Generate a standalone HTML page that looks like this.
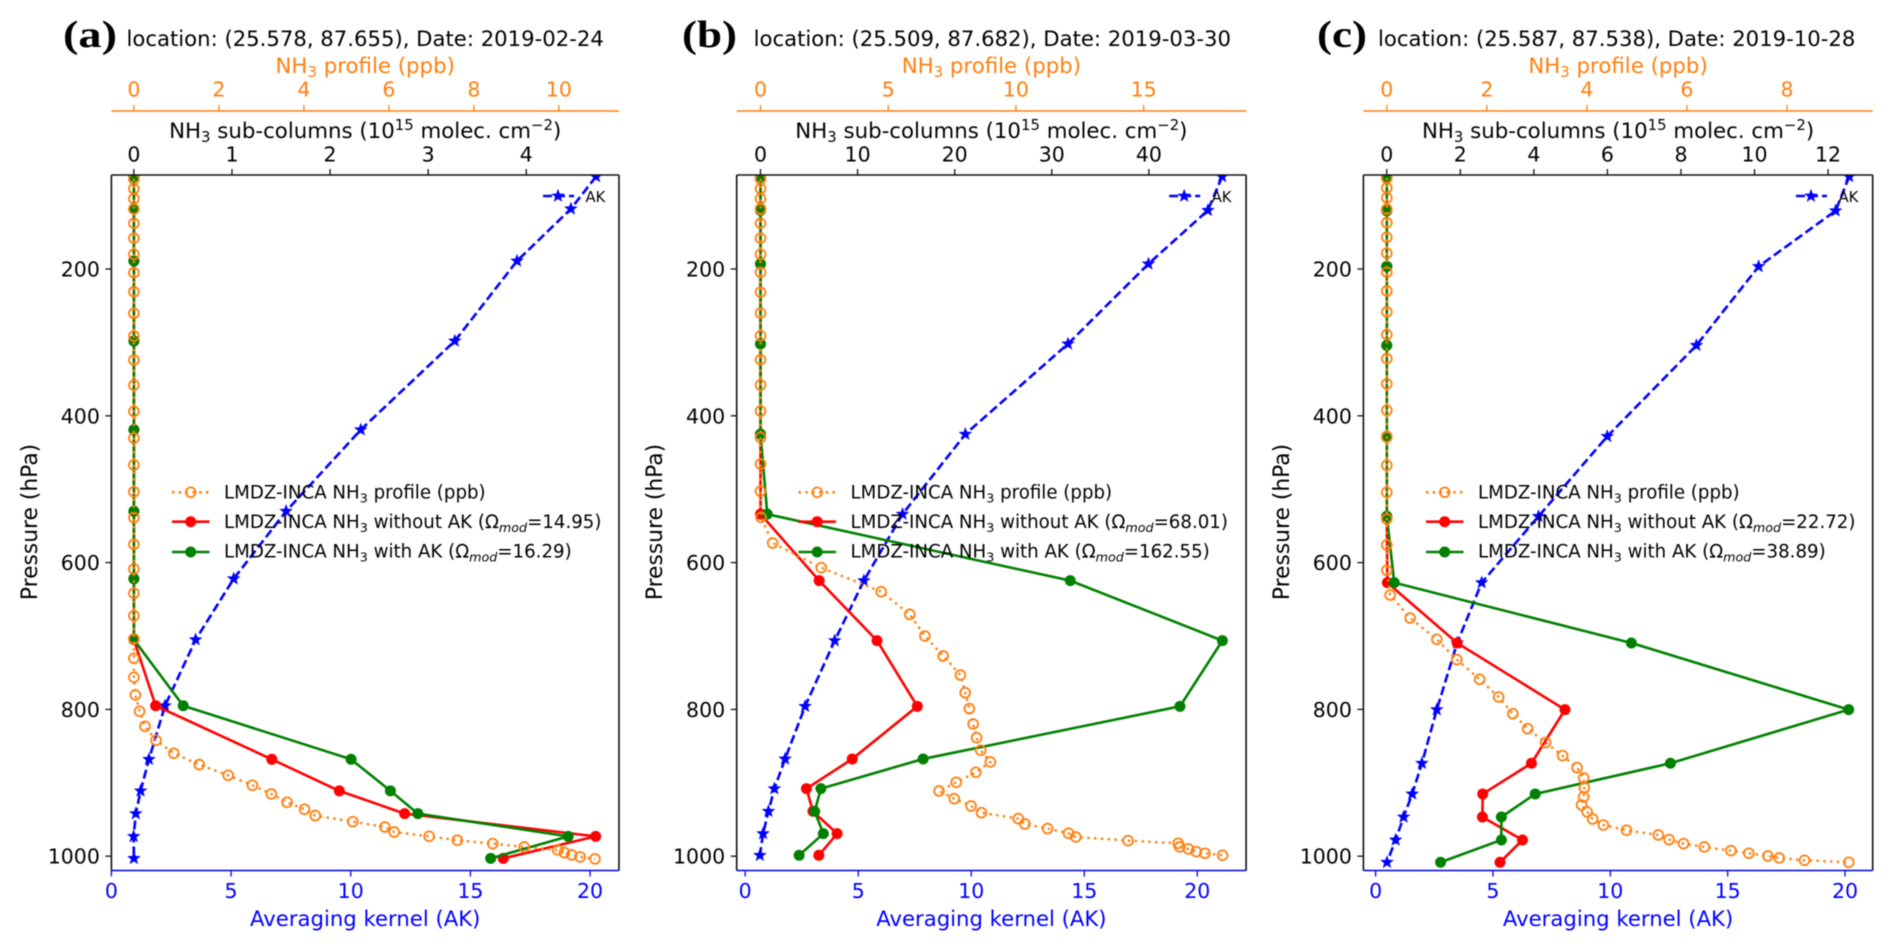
<!DOCTYPE html>
<html lang="en">
<head>
<meta charset="utf-8">
<title>LMDZ-INCA NH3 profiles</title>
<style>
html,body{margin:0;padding:0;background:#fff;width:1892px;height:950px;overflow:hidden}
svg{display:block;filter:blur(.65px)}
text{font-family:"DejaVu Sans","Liberation Sans",sans-serif;fill:#000}
</style>
</head>
<body>
<svg id="figure" xmlns="http://www.w3.org/2000/svg" width="1892" height="950" viewBox="0 0 1892 950"></svg>
<script>
// ---------- Panel (a) ----------
const aColumnPressure = [74,118,189,298,419,530,622,705,795,868,911,942,973,1003];
const aAveragingKernel = [20.25,19.2,16.95,14.35,10.42,7.3,5.11,3.52,2.24,1.57,1.22,1.02,0.93,0.94];
const aColumnsNoAk = [0,0,0,0,0,0,0,0,0.222,1.406,2.094,2.76,4.707,3.765];
const aColumnsWithAk = [0,0,0,0,0,0,0,0,0.503,2.214,2.615,2.895,4.427,3.637];
const aProfilePressure = [77.4,90.6,104.2,118.2,137.7,158,180,205,231,260.4,291.3,324,358.3,394,430.4,467,503.5,538.8,575,608.7,641.8,672.4,704,730.4,756.3,780.3,802.6,823,842.1,859.8,875.2,889.8,903.4,915.2,926.5,936.1,944.7,952.9,960.2,967,972.9,978.3,982.9,987.4,991.5,995.1,998.3,1001,1003.7];
const aProfile = [0,0,0,0,0,0,0,0,0,0,0,0,0,0,0,0,0,0,0,0,0,0,0,0,0,0.034,0.135,0.261,0.521,0.941,1.538,2.218,2.789,3.234,3.604,4.016,4.268,5.15,5.906,6.124,6.947,7.611,8.442,9.182,9.971,10.13,10.3,10.5,10.85];
const aAkTicks = [0,5,10,15,20];
const aColumnTicks = [0,1,2,3,4];
const aProfileTicks = [0,2,4,6,8,10];
const aOmega = ["14.95","16.29"];

// ---------- Panel (b) ----------
const bColumnPressure = [74,120,193,302,425,534,624.6,706.3,795.8,867.5,908,938.8,969.3,998.8];
const bAveragingKernel = [21.1,20.47,17.84,14.28,9.74,6.96,5.25,3.96,2.65,1.765,1.29,1.03,0.79,0.65];
const bColumnsNoAk = [0,0,0,0,0,0,6.04,12,16.15,9.45,4.73,5.4,7.89,6.01];
const bColumnsWithAk = [0,0,0,0,0,0.7,31.9,47.57,43.2,16.75,6.22,5.58,6.47,3.98];
const bProfilePressure = [77.4,90.6,104.2,118.2,137.7,158,180,204.5,231.5,260,291,323.5,358,393.5,429.5,465.7,502.6,538.3,573.3,606.9,639.6,670.5,700,727.2,753.1,777.2,799,819.9,838.5,855.7,871.6,885.7,899.3,911.1,921.6,931.6,940.7,948.8,956.1,962.4,968.8,973.8,978.8,982.4,987.4,990.1,993.8,996,998.8];
const bProfile = [0,0,0,0,0,0,0,0,0,0,0,0,0,0,0,0,0,0.02,0.477,2.378,4.724,5.843,6.436,7.151,7.825,8.014,8.176,8.324,8.459,8.62,8.998,8.432,7.663,6.989,7.582,8.243,8.648,10.09,10.35,11.24,12.06,12.34,14.39,16.35,16.41,16.75,17.06,17.4,18.09];
const bAkTicks = [0,5,10,15,20];
const bColumnTicks = [0,10,20,30,40];
const bProfileTicks = [0,5,10,15];
const bOmega = ["68.01","162.55"];

// ---------- Panel (c) ----------
const cColumnPressure = [74,120.6,196.5,304,428,537,627.3,709.5,800.3,873.4,915.2,946.6,977.9,1008.3];
const cAveragingKernel = [20.18,19.6,16.32,13.67,9.87,6.94,4.52,3.475,2.606,1.973,1.56,1.192,0.853,0.485];
const cColumnsNoAk = [0,0,0,0,0,0,0.015,1.913,4.846,3.934,2.609,2.6,3.69,3.079];
const cColumnsWithAk = [0,0,0,0,0,0,0.203,6.651,12.56,7.713,4.037,3.116,3.116,1.462];
const cProfilePressure = [76,89.3,103,118.5,136.8,156.7,178.5,204.3,229.9,258.5,289.5,322,356.5,392.5,429,467.4,504.2,540.6,576,610.5,644.1,675.5,704.5,732.2,759,783.1,805.8,826.2,845.3,863,879.3,893.4,906.6,919.3,930.2,939.7,949.3,957.5,964.7,971.1,977.4,982.9,987.4,992.4,996,999.7,1002.4,1005.6,1008.3];
const cProfile = [0,0,0,0,0,0,0,0,0,0,0,0,0,0,0,0,0,0,0,0,0.066,0.466,1,1.399,1.855,2.236,2.519,2.816,3.175,3.514,3.804,3.936,3.949,3.935,3.894,4.005,4.115,4.329,4.792,5.428,5.642,5.932,6.347,6.879,7.238,7.618,7.846,8.351,9.235];
const cAkTicks = [0,5,10,15,20];
const cColumnTicks = [0,2,4,6,8,10,12];
const cProfileTicks = [0,2,4,6,8];
const cOmega = ["22.72","38.89"];

const pressureTicks = [200,400,600,800,1000];
const pressureDomain = [71.9,1019.5];

const NS = "http://www.w3.org/2000/svg";
const ORANGE = "#ff7f0e", BLUE = "#0000ff", RED = "#ff0000", GREEN = "#008000";
const SVG = document.getElementById("figure");
const PLOT_TOP = 175, PLOT_BOTTOM = 870.5, ORANGE_AXIS_Y = 111;

function mk(tag, attrs, parent){
  const n = document.createElementNS(NS, tag);
  for (const k in attrs) n.setAttribute(k, attrs[k]);
  (parent || SVG).appendChild(n);
  return n;
}
function linear(domain, range){
  return v => range[0] + (v - domain[0]) * (range[1] - range[0]) / (domain[1] - domain[0]);
}
function starPath(cx, cy, R, r){
  let d = "";
  for (let i = 0; i < 10; i++){
    const rad = i % 2 ? r : R, a = -Math.PI / 2 + i * Math.PI / 5;
    d += (i ? "L" : "M") + (cx + rad * Math.cos(a)).toFixed(2) + " " + (cy + rad * Math.sin(a)).toFixed(2);
  }
  return d + "Z";
}
const SUB = 'font-size="14.9"';
const NH3 = 'NH<tspan dy="4" ' + SUB + '>3</tspan>';

function seriesPath(xs, ys, x, y){
  return xs.map((v, i) => (i ? "L" : "M") + x(v).toFixed(2) + " " + y(ys[i]).toFixed(2)).join("");
}

function drawPanel(p){
  const g = mk("g", {});
  
  
  const cx = (p.left + p.right) / 2;
  const y = linear(pressureDomain, [PLOT_TOP, PLOT_BOTTOM]);
  const xAk = linear(p.akDomain, [p.left, p.right]);
  const xCol = linear(p.colDomain, [p.left, p.right]);
  const xPro = linear(p.proDomain, [p.left, p.right]);

  const clip = mk("clipPath", {id: "clip-" + p.id}, g);
  mk("rect", {x: p.left, y: PLOT_TOP, width: p.right - p.left, height: PLOT_BOTTOM - PLOT_TOP}, clip);
  const plot = mk("g", {"clip-path": "url(#clip-" + p.id + ")"}, g);

  // averaging kernel
  const akLine = mk("path", {d: seriesPath(p.ak, p.colP, xAk, y), fill: "none", stroke: BLUE, "stroke-width": 2.6, "stroke-dasharray": "9 4"}, plot);
  
  
  p.ak.forEach((v, i) => {
    const s = mk("path", {d: starPath(xAk(v), y(p.colP[i]), 7.2, 3), fill: BLUE}, plot);
    
    
  });

  // sub-columns without AK
  const redLine = mk("path", {d: seriesPath(p.noAk, p.colP, xCol, y), fill: "none", stroke: RED, "stroke-width": 2.6}, plot);
  
  
  p.noAk.forEach((v, i) => {
    const c = mk("circle", {cx: xCol(v), cy: y(p.colP[i]), r: 5.5, fill: RED}, plot);
    
    
  });

  // sub-columns with AK
  const greenLine = mk("path", {d: seriesPath(p.withAk, p.colP, xCol, y), fill: "none", stroke: GREEN, "stroke-width": 2.6}, plot);
  
  
  p.withAk.forEach((v, i) => {
    const c = mk("circle", {cx: xCol(v), cy: y(p.colP[i]), r: 5.5, fill: GREEN}, plot);
    
    
  });

  // NH3 profile
  const proLine = mk("path", {d: seriesPath(p.pro, p.proP, xPro, y), fill: "none", stroke: ORANGE, "stroke-width": 2.4, "stroke-dasharray": "2.4 4.4"}, plot);
  
  
  p.pro.forEach((v, i) => {
    const c = mk("circle", {cx: xPro(v), cy: y(p.proP[i]), r: 4.9, fill: "none", stroke: ORANGE, "stroke-width": 1.8}, plot);
    
    
  });

  // frame
  const spines = [
    ["left-spine", p.left, PLOT_TOP, p.left, PLOT_BOTTOM, "#111"],
    ["right-spine", p.right, PLOT_TOP, p.right, PLOT_BOTTOM, "#111"],
    ["top-spine", p.left, PLOT_TOP, p.right, PLOT_TOP, "#111"],
    ["bottom-spine", p.left, PLOT_BOTTOM, p.right, PLOT_BOTTOM, BLUE],
    ["profile-axis-line", p.left, ORANGE_AXIS_Y, p.right, ORANGE_AXIS_Y, ORANGE]
  ];
  spines.forEach(s => {
    const l = mk("line", {x1: s[1], y1: s[2], x2: s[3], y2: s[4], stroke: s[5], "stroke-width": 1.6}, g);
    
    
  });

  // y ticks
  pressureTicks.forEach(v => {
    const py = y(v);
    mk("line", {x1: p.left - 6, y1: py, x2: p.left, y2: py, stroke: "#111", "stroke-width": 1.3}, g);
    const t = mk("text", {x: p.left - 11.5, y: py + 7.5, "text-anchor": "end", "font-size": 20.5}, g);
    t.textContent = String(v);
    
    
  });
  // bottom ticks
  p.akTicks.forEach(v => {
    const px = xAk(v);
    mk("line", {x1: px, y1: PLOT_BOTTOM, x2: px, y2: PLOT_BOTTOM + 6, stroke: BLUE, "stroke-width": 1.3}, g);
    const t = mk("text", {x: px, y: 898, "text-anchor": "middle", "font-size": 20.5, style: "fill:" + BLUE}, g);
    t.textContent = String(v);
    
    
  });
  // sub-column ticks
  p.colTicks.forEach(v => {
    const px = xCol(v);
    mk("line", {x1: px, y1: PLOT_TOP - 6, x2: px, y2: PLOT_TOP, stroke: "#111", "stroke-width": 1.3}, g);
    const t = mk("text", {x: px, y: 161.5, "text-anchor": "middle", "font-size": 20.5}, g);
    t.textContent = String(v);
    
    
  });
  // profile ticks
  p.proTicks.forEach(v => {
    const px = xPro(v);
    mk("line", {x1: px, y1: ORANGE_AXIS_Y - 6, x2: px, y2: ORANGE_AXIS_Y, stroke: ORANGE, "stroke-width": 1.3}, g);
    const t = mk("text", {x: px, y: 96.5, "text-anchor": "middle", "font-size": 20.5, style: "fill:" + ORANGE}, g);
    t.textContent = String(v);
    
    
  });

  // axis titles
  const tPro = mk("text", {x: cx, y: 73, "text-anchor": "middle", "font-size": 21.3, style: "fill:" + ORANGE}, g);
  tPro.innerHTML = NH3 + '<tspan dy="-4"> profile (ppb)</tspan>';
  
  

  const tCol = mk("text", {x: cx, y: 138, "text-anchor": "middle", "font-size": 21.3}, g);
  tCol.innerHTML = NH3 + '<tspan dy="-4"> sub-columns (10</tspan><tspan dy="-8" ' + SUB + '>15</tspan><tspan dy="8"> molec. cm</tspan><tspan dy="-8" ' + SUB + '>\u22122</tspan><tspan dy="8">)</tspan>';
  
  

  const tAk = mk("text", {x: cx, y: 926, "text-anchor": "middle", "font-size": 21.2, style: "fill:" + BLUE}, g);
  tAk.textContent = "Averaging kernel (AK)";
  
  

  const yx = p.left - 74.5;
  const tY = mk("text", {x: yx, y: 522, "text-anchor": "middle", "font-size": 21.8, transform: "rotate(-90 " + yx + " 522)"}, g);
  tY.textContent = "Pressure (hPa)";
  
  

  // panel title
  const letter = mk("text", {x: p.letterX, y: 47, "font-size": 38, "font-weight": "bold", textLength: p.letterW, lengthAdjust: "spacingAndGlyphs", style: 'font-family:"Liberation Serif",serif'}, g);
  letter.textContent = "(" + p.id + ")";
  
  

  const title = mk("text", {x: p.titleX, y: 46, "font-size": 21.2}, g);
  title.textContent = p.title;
  
  

  // main legend
  const hx = p.legendX;
  const rows = [
    {y: 492.3, base: 498.5, label: NH3.replace("NH", "LMDZ-INCA NH") + '<tspan dy="-4"> profile (ppb)</tspan>'},
    {y: 521.7, base: 528, label: NH3.replace("NH", "LMDZ-INCA NH") + '<tspan dy="-4"> without AK (\u03a9</tspan><tspan dy="4" font-size="12.7" font-style="italic">mod</tspan><tspan dy="-4">=' + p.omega[0] + ')</tspan>'},
    {y: 552, base: 557.5, label: NH3.replace("NH", "LMDZ-INCA NH") + '<tspan dy="-4"> with AK (\u03a9</tspan><tspan dy="4" font-size="12.7" font-style="italic">mod</tspan><tspan dy="-4">=' + p.omega[1] + ')</tspan>'}
  ];
  rows.forEach((r, i) => {
    const col = [ORANGE, RED, GREEN][i];
    const line = mk("line", {x1: hx, y1: r.y, x2: hx + 37.5, y2: r.y, stroke: col, "stroke-width": 2.6, "stroke-dasharray": i ? "none" : "2.4 4.4"}, g);
    
    
    const m = mk("circle", {cx: hx + 18.7, cy: r.y, r: i ? 5.5 : 4.9, fill: i ? col : "none", stroke: i ? "none" : col, "stroke-width": 1.8}, g);
    
    
    const t = mk("text", {x: hx + 52, y: r.base, "font-size": 18.2}, g);
    t.innerHTML = r.label.replace('font-size="14.9"', 'font-size="12.7"');
    
    
  });

  // AK legend
  const al = mk("line", {x1: p.akLegendX, y1: 196, x2: p.akLegendX + 31, y2: 196, stroke: BLUE, "stroke-width": 2.6, "stroke-dasharray": "9 4"}, g);
  
  
  const as = mk("path", {d: starPath(p.akLegendX + 15, 196, 7.2, 3), fill: BLUE}, g);
  
  
  const at = mk("text", {x: p.akLegendX + 42.5, y: 202, "font-size": 14.8}, g);
  at.textContent = "AK";
  
  
}

drawPanel({
  id: "a", left: 111.4, right: 619,
  akDomain: [0, 21.21], colDomain: [-0.229, 4.945], proDomain: [-0.529, 11.414],
  colP: aColumnPressure, ak: aAveragingKernel, noAk: aColumnsNoAk, withAk: aColumnsWithAk,
  proP: aProfilePressure, pro: aProfile,
  akTicks: aAkTicks, colTicks: aColumnTicks, proTicks: aProfileTicks, omega: aOmega,
  title: "location: (25.578, 87.655), Date: 2019-02-24", titleX: 126.5, letterX: 63, letterW: 54,
  legendX: 172, akLegendX: 543
});
drawPanel({
  id: "b", left: 736.7, right: 1246.1,
  akDomain: [-0.376, 22.16], colDomain: [-2.451, 50.01], proDomain: [-0.932, 19.01],
  colP: bColumnPressure, ak: bAveragingKernel, noAk: bColumnsNoAk, withAk: bColumnsWithAk,
  proP: bProfilePressure, pro: bProfile,
  akTicks: bAkTicks, colTicks: bColumnTicks, proTicks: bProfileTicks, omega: bOmega,
  title: "location: (25.509, 87.682), Date: 2019-03-30", titleX: 753.6, letterX: 682, letterW: 55,
  legendX: 798.5, akLegendX: 1169.2
});
drawPanel({
  id: "c", left: 1363.4, right: 1872.7,
  akDomain: [-0.52, 21.18], colDomain: [-0.636, 13.214], proDomain: [-0.468, 9.714],
  colP: cColumnPressure, ak: cAveragingKernel, noAk: cColumnsNoAk, withAk: cColumnsWithAk,
  proP: cProfilePressure, pro: cProfile,
  akTicks: cAkTicks, colTicks: cColumnTicks, proTicks: cProfileTicks, omega: cOmega,
  title: "location: (25.587, 87.538), Date: 2019-10-28", titleX: 1378, letterX: 1317, letterW: 50,
  legendX: 1426, akLegendX: 1796
});
</script>
</body>
</html>
